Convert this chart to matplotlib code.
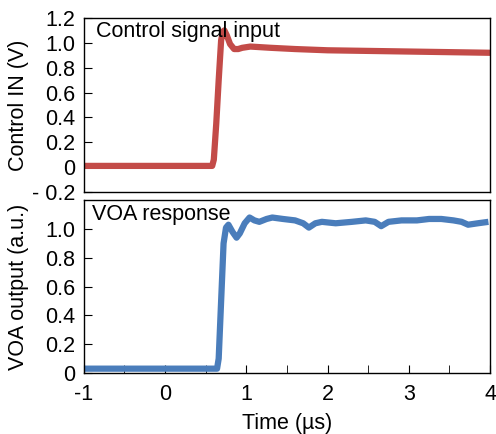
import numpy as np
import matplotlib.pyplot as plt
from matplotlib.ticker import MultipleLocator

plt.rcParams['font.family'] = ['Liberation Sans', 'DejaVu Sans']
plt.rcParams['font.size'] = 15.5

# control signal (V)
ctrl_t = [-1.0, -0.5, 0.0, 0.3, 0.58, 0.60, 0.63, 0.66, 0.69, 0.71, 0.73, 0.76, 0.80,
          0.85, 0.90, 0.95, 1.05, 1.3, 1.6, 2.0, 2.5, 3.0, 3.5, 4.0]
ctrl_v = [0.01, 0.01, 0.01, 0.01, 0.01, 0.06, 0.35, 0.70, 1.02, 1.09, 1.10, 1.06, 0.99,
          0.95, 0.95, 0.96, 0.97, 0.96, 0.95, 0.94, 0.935, 0.93, 0.925, 0.92]

# VOA response (a.u.)
voa_t = [-1.0, -0.5, 0.0, 0.3, 0.64, 0.66, 0.69, 0.72, 0.75, 0.78, 0.83, 0.88, 0.92,
         0.98, 1.04, 1.10, 1.16, 1.25, 1.32, 1.45, 1.6, 1.70, 1.77, 1.85, 1.93, 2.1,
         2.3, 2.47, 2.58, 2.66, 2.75, 2.91, 3.1, 3.25, 3.40, 3.55, 3.65, 3.73, 3.85, 3.98]
voa_v = [0.03, 0.03, 0.03, 0.03, 0.03, 0.10, 0.50, 0.90, 1.01, 1.03, 0.98, 0.94, 0.97,
         1.04, 1.08, 1.06, 1.05, 1.07, 1.08, 1.07, 1.06, 1.04, 1.01, 1.04, 1.05, 1.04,
         1.05, 1.06, 1.05, 1.02, 1.05, 1.06, 1.06, 1.07, 1.07, 1.06, 1.05, 1.03, 1.04, 1.05]

x_ticks = [-1, 0, 1, 2, 3, 4]
x_labels = ['-1', '0', '1', '2', '3', '4']
y1_ticks = [-0.2, 0, 0.2, 0.4, 0.6, 0.8, 1.0, 1.2]
y1_labels = ['- 0.2', '0', '0.2', '0.4', '0.6', '0.8', '1.0', '1.2']
y2_ticks = [0, 0.2, 0.4, 0.6, 0.8, 1.0]
y2_labels = ['0', '0.2', '0.4', '0.6', '0.8', '1.0']

red = '#c34b48'
blue = '#4a7dbb'

fig = plt.figure(figsize=(4.96, 4.34), dpi=100)
ax1 = fig.add_axes([0.169, 0.5576, 0.819, 0.401])
ax2 = fig.add_axes([0.169, 0.1406, 0.819, 0.398])

ax1.plot(ctrl_t, ctrl_v, color=red, lw=4.5, solid_capstyle='butt')
ax1.set_xlim(-1, 4)
ax1.set_ylim(-0.2, 1.2)
ax1.set_yticks(y1_ticks)
ax1.set_yticklabels(y1_labels)
ax1.set_xticks([])
ax1.tick_params(axis='y', direction='in', length=6, pad=6)
ax1.set_ylabel('Control IN (V)')
ax1.yaxis.set_label_coords(-0.135, 0.5)
ax1.text(0.03, 0.92, 'Control signal input', transform=ax1.transAxes, va='center')

ax2.plot(voa_t, voa_v, color=blue, lw=4.5, solid_capstyle='butt')
ax2.set_xlim(-1, 4)
ax2.set_ylim(0, 1.2)
ax2.set_yticks(y2_ticks)
ax2.set_yticklabels(y2_labels)
ax2.set_xticks(x_ticks)
ax2.set_xticklabels(x_labels)
ax2.xaxis.set_minor_locator(MultipleLocator(0.5))
ax2.tick_params(axis='y', direction='in', length=6, pad=6)
ax2.tick_params(axis='x', which='both', direction='in', length=6, pad=8)
ax2.set_ylabel('VOA output (a.u.)')
ax2.yaxis.set_label_coords(-0.135, 0.5)
ax2.set_xlabel('Time (\u00b5s)', labelpad=6)
ax2.text(0.02, 0.92, 'VOA response', transform=ax2.transAxes, va='center')

for ax in (ax1, ax2):
    for s in ax.spines.values():
        s.set_linewidth(1.0)

plt.savefig('out.png')
